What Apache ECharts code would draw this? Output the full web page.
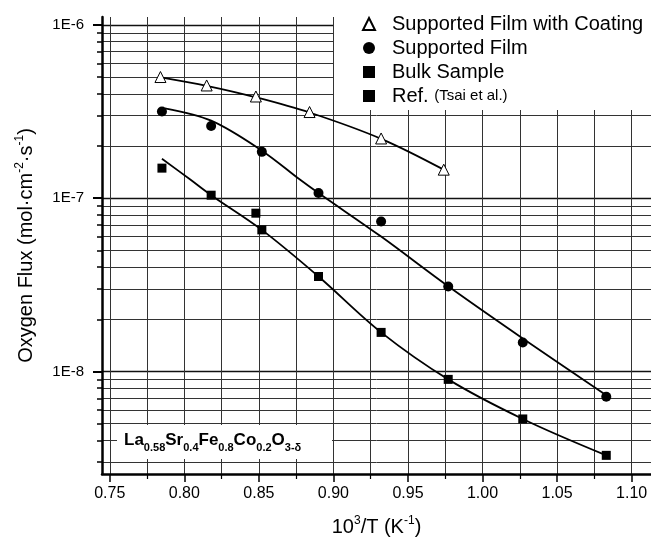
<!DOCTYPE html>
<html>
<head>
<meta charset="utf-8">
<script src="https://cdn.jsdelivr.net/npm/echarts@6/dist/echarts.min.js"></script>
<style>
html, body { margin: 0; padding: 0; background: #fff; }
#chart { width: 651px; height: 544px; }
</style>
</head>
<body>
<div id="chart"></div>
<script>
// x = 10^3/T (K^-1), y = oxygen flux (mol cm^-2 s^-1)
const coatedX = [0.784, 0.815, 0.848, 0.884, 0.932, 0.974];
const coatedY = [5.0e-7, 4.47e-7, 3.86e-7, 3.14e-7, 2.21e-7, 1.46e-7];
const filmX = [0.785, 0.818, 0.852, 0.890, 0.932, 0.977, 1.027, 1.083];
const filmY = [3.16e-7, 2.61e-7, 1.85e-7, 1.07e-7, 7.33e-8, 3.09e-8, 1.47e-8, 7.15e-9];
const bulkX = [0.818, 0.852, 0.890, 0.932, 0.977, 1.027, 1.083];
const bulkY = [1.04e-7, 6.56e-8, 3.53e-8, 1.68e-8, 9.0e-9, 5.32e-9, 3.28e-9];
const refX = [0.785, 0.848];
const refY = [1.49e-7, 8.19e-8];

// fitted curves as drawn in the figure
const coatedFitX = [0.786, 0.815, 0.848, 0.884, 0.932, 0.974];
const coatedFitY = [4.95e-7, 4.45e-7, 3.82e-7, 3.12e-7, 2.2e-7, 1.46e-7];
const filmFitX = [0.787, 0.818, 0.852, 0.8775, 0.890, 0.932, 0.977, 1.027, 1.083];
const filmFitY = [3.3e-7, 2.8e-7, 1.88e-7, 1.28e-7, 1.07e-7, 6.0e-8, 3.1e-8, 1.55e-8, 7.3e-9];
const bulkFitX = [0.785, 0.804, 0.818, 0.852, 0.890, 0.932, 0.977, 1.027, 1.083];
const bulkFitY = [1.69e-7, 1.28e-7, 1.04e-7, 6.56e-8, 3.53e-8, 1.68e-8, 9.0e-9, 5.32e-9, 3.28e-9];

const xMajor = [0.75, 0.80, 0.85, 0.90, 0.95, 1.00, 1.05, 1.10];
const xMinor = [0.775, 0.825, 0.875, 0.925, 0.975, 1.025, 1.075];
const yMajor = [1e-8, 1e-7, 1e-6];
const yMinor = [3e-9, 4e-9, 5e-9, 6e-9, 7e-9, 8e-9, 9e-9,
  2e-8, 3e-8, 4e-8, 5e-8, 6e-8, 7e-8, 8e-8, 9e-8,
  2e-7, 3e-7, 4e-7, 5e-7, 6e-7, 7e-7, 8e-7, 9e-7];

const names = ['Supported Film with Coating', 'Supported Film', 'Bulk Sample', 'Ref. (Tsai et al.)'];

const font = 'Liberation Sans, Arial, sans-serif';
const black = '#000';
const xMin = 0.7448, xMax = 1.113;
const yMin = 2.56e-9, yMax = 1.11e-6;

const zip = (xs, ys) => xs.map((x, i) => [x, ys[i]]);

const chart = echarts.init(document.getElementById('chart'));

const nameRich = {
  n: { fontSize: 20, fontFamily: font, color: black, lineHeight: 25 },
  p: { fontSize: 12, fontFamily: font, color: black, verticalAlign: 'top', lineHeight: 12 }
};

function fitLine(xs, ys) {
  return {
    type: 'line', data: zip(xs, ys), symbol: 'none', smooth: 0.35, silent: true,
    lineStyle: { color: black, width: 1.8 }, z: 2
  };
}

chart.setOption({
  animation: false,
  grid: { left: 102, right: 0, top: 17, bottom: 70 },
  xAxis: [{
    type: 'value', min: xMin, max: xMax, position: 'bottom',
    axisLine: { show: true, onZero: false, lineStyle: { color: black, width: 2.5 } },
    axisTick: { show: true, customValues: xMajor, length: 8, lineStyle: { color: black, width: 1.5 } },
    axisLabel: { customValues: xMajor, margin: 12, color: black, fontSize: 16, fontFamily: font,
      formatter: v => v.toFixed(2) },
    splitLine: { show: true, lineStyle: { color: '#333', width: 1 } },
    name: '{n|10}{p|3}{n|/T (K}{p|-1}{n|)}',
    nameLocation: 'middle', nameGap: 41,
    nameTextStyle: { rich: nameRich }
  }, {
    type: 'value', min: xMin, max: xMax, position: 'bottom',
    axisLine: { show: false },
    axisTick: { show: true, customValues: xMinor, length: 5, lineStyle: { color: black, width: 1.2 } },
    axisLabel: { show: false },
    splitLine: { show: true, lineStyle: { color: '#333', width: 1 } }
  }],
  yAxis: [{
    type: 'log', min: yMin, max: yMax, position: 'left',
    axisLine: { show: true, onZero: false, lineStyle: { color: black, width: 2.5 } },
    axisTick: { show: true, customValues: yMajor, length: 9, lineStyle: { color: black, width: 2 } },
    axisLabel: { customValues: yMajor, margin: 18, color: black, fontSize: 15, fontFamily: font,
      formatter: v => '1E-' + Math.round(-Math.log10(v)) },
    splitLine: { show: true, lineStyle: { color: '#111', width: 1.3 } },
    name: '{n|Oxygen Flux (mol·cm}{p|-2}{n|·s}{p|-1}{n|)}',
    nameLocation: 'middle', nameGap: 63,
    nameTextStyle: { rich: nameRich }
  }, {
    type: 'log', min: yMin, max: yMax, position: 'left',
    axisLine: { show: false },
    axisTick: { show: true, customValues: yMinor, length: 5, lineStyle: { color: black, width: 1.5 } },
    axisLabel: { show: false },
    splitLine: { show: true, lineStyle: { color: '#333', width: 1 } }
  }],
  legend: {
    data: names, orient: 'vertical', left: 357, top: 9,
    itemWidth: 12, itemHeight: 12, itemGap: 4, selectedMode: false,
    textStyle: { fontSize: 20, color: black, fontFamily: font, padding: [0, 0, 0, 12],
      rich: { r: { fontSize: 20, fontFamily: font, color: black }, t: { fontSize: 15, fontFamily: font, color: black } } },
    formatter: n => n === names[3] ? '{r|Ref.} {t|(Tsai et al.)}' : n
  },
  graphic: [
    { type: 'rect', left: 334, top: 0, shape: { width: 317, height: 110 }, style: { fill: '#fff' }, z: 1 },
    { type: 'rect', left: 117, top: 425, shape: { width: 215, height: 34 }, style: { fill: '#fff' }, z: 1 },
    { type: 'text', left: 124, top: 432, z: 2,
      style: {
        text: '{m|La}{s|0.58}{m|Sr}{s|0.4}{m|Fe}{s|0.8}{m|Co}{s|0.2}{m|O}{s|3-δ}',
        fill: black,
        rich: {
          m: { fontSize: 17, fontWeight: 'bold', fontFamily: font, fill: black, lineHeight: 26 },
          s: { fontSize: 11, fontWeight: 'bold', fontFamily: font, fill: black, lineHeight: 12, verticalAlign: 'bottom' }
        }
      } }
  ],
  series: [
    fitLine(coatedFitX, coatedFitY),
    fitLine(filmFitX, filmFitY),
    fitLine(bulkFitX, bulkFitY),
    { name: names[0], type: 'scatter', data: zip(coatedX, coatedY), symbol: 'triangle', symbolSize: 11,
      itemStyle: { color: '#fff', borderColor: black, borderWidth: 1, opacity: 1 }, z: 3 },
    { name: names[1], type: 'scatter', data: zip(filmX, filmY), symbol: 'circle', symbolSize: 10,
      itemStyle: { color: black, opacity: 1 }, z: 3 },
    { name: names[2], type: 'scatter', data: zip(bulkX, bulkY), symbol: 'rect', symbolSize: 9,
      itemStyle: { color: black, opacity: 1 }, z: 3 },
    { name: names[3], type: 'scatter', data: zip(refX, refY), symbol: 'rect', symbolSize: 9,
      itemStyle: { color: black, opacity: 1 }, z: 3 }
  ]
});
</script>
</body>
</html>
